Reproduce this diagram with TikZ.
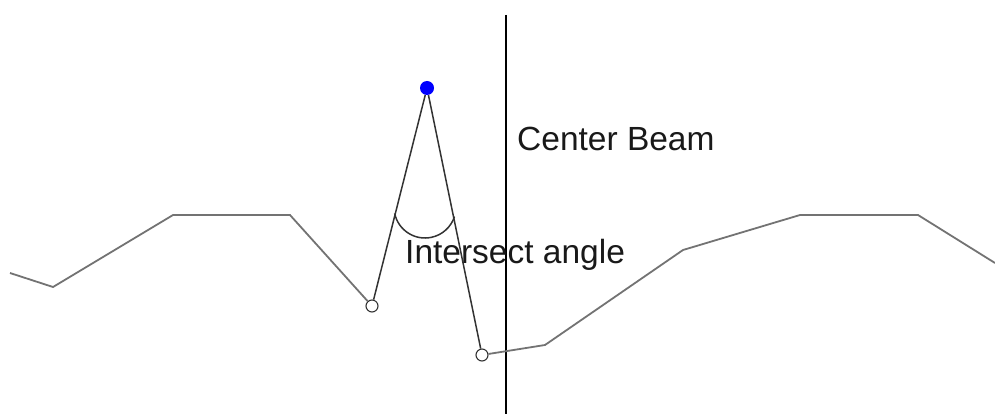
\documentclass[tikz,border=0pt]{standalone}
\usepackage{fontspec}
\setmainfont{Liberation Sans}
\usetikzlibrary{calc,positioning}

\begin{document}
\begin{tikzpicture}[x=1pt,y=-1pt,
  ground/.style={color=black!55, line width=1.8pt},
  ray/.style={color=black!80, line width=1.5pt},
  hit/.style={circle,draw=black!80,fill=white,line width=1.1pt,inner sep=0pt,minimum size=12pt},
  beamtext/.style={anchor=base west,inner sep=0pt,font=\fontsize{33.5}{38}\selectfont,text=black!90}]
\useasboundingbox (0,0) rectangle (995,414);

% center beam
\coordinate (btop) at (506,15);
\coordinate (bbot) at (506,414);
\draw [black, line width=1.6pt] (btop) -- (bbot);

% source and hit points
\node (src) at (427,88) [circle,fill=blue,inner sep=0pt,minimum width=14pt,minimum height=12pt]{};
\node (lhit) at (372,306) [hit]{};
\node (rhit) at (482,355) [hit]{};

% terrain
\draw [ground] (10,273) -- (53,287) -- (173,215) -- (290,215) -- (lhit);
\draw [ground] (rhit) -- (545,345) -- (683,250) -- (800,215) -- (918,215) -- (995,263);

% rays and angle
\draw [ray] (src) -- (lhit);
\draw [ray] (src) -- (rhit);
\draw [ray] (425,207) ++(168:31) arc [start angle=168, end angle=18, radius=31];

\node [beamtext] at (517,151) {Center Beam};
\node [beamtext] at (405,263) {Intersect angle};
\end{tikzpicture}
\end{document}
